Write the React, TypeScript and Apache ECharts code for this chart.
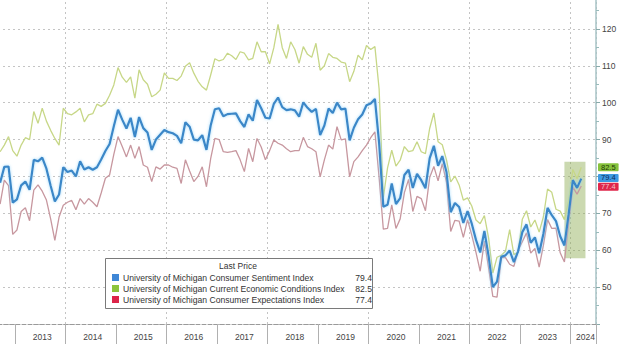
import React, { useEffect, useRef } from "react";
import * as echarts from "echarts";

// Monthly categories: Sep 2012 .. Jun 2024 (last three months empty padding)
const startYear = 2012;
const startMonth = 9;
const monthCount = 142;
const months: string[] = [];
for (let i = 0; i < monthCount; i++) {
  const t = startYear * 12 + (startMonth - 1) + i;
  const y = Math.floor(t / 12);
  const m = (t % 12) + 1;
  months.push(`${y}-${String(m).padStart(2, "0")}`);
}

const sentimentName = "University of Michigan Consumer Sentiment Index";
const currentName = "University of Michigan Current Economic Conditions Index";
const expectName = "University of Michigan Consumer Expectations Index";

// Sep 2012 .. Mar 2024
const sentiment: number[] = [
  78.3, 82.6, 82.7, 72.9,
  73.8, 77.6, 78.6, 76.4, 84.5, 84.1, 85.1, 82.1, 77.5, 73.2, 75.1, 82.5,
  81.2, 81.6, 80.0, 84.1, 81.9, 82.5, 81.8, 82.5, 84.6, 86.9, 88.8, 93.6,
  98.1, 95.4, 93.0, 95.9, 90.7, 96.1, 93.1, 91.9, 87.2, 90.0, 91.3, 92.6,
  92.0, 91.7, 91.0, 89.0, 94.7, 93.5, 90.0, 89.8, 91.2, 87.2, 93.8, 98.2,
  98.5, 96.3, 96.9, 97.0, 97.1, 95.0, 93.4, 96.8, 95.1, 100.7, 98.5, 95.9,
  95.7, 99.7, 101.4, 98.8, 98.0, 98.2, 97.9, 96.2, 100.1, 98.6, 97.5, 98.3,
  91.2, 93.8, 98.4, 97.2, 100.0, 98.2, 98.4, 89.8, 93.2, 95.5, 96.8, 99.3,
  99.8, 101.0, 89.1, 71.8, 72.3, 78.1, 72.5, 74.1, 80.4, 81.8, 76.9, 80.7,
  79.0, 76.8, 84.9, 88.3, 82.9, 85.5, 81.2, 70.3, 72.8, 71.7, 67.4, 70.6,
  67.2, 62.8, 59.4, 65.2, 58.4, 50.0, 51.5, 58.2, 58.6, 59.9, 56.8, 59.7,
  64.9, 67.0, 62.0, 63.5, 59.2, 64.4, 71.5, 69.5, 67.9, 63.8, 61.3, 69.7,
  79.0, 76.9, 79.4,
];

const currentConditions: number[] = [
  86.7, 88.5, 90.8, 87.0,
  85.5, 88.5, 90.5, 90.0, 97.6, 94.4, 98.5, 95.0, 92.5, 90.3, 88.5, 98.5,
  97.0, 96.7, 97.5, 98.5, 94.8, 96.7, 97.0, 99.6, 99.0, 99.8, 102.0, 104.8,
  109.5, 106.9, 105.5, 107.0, 101.2, 108.9, 106.2, 105.0, 101.6, 102.3, 103.4, 108.1,
  106.6, 106.6, 106.0, 107.2, 109.9, 110.8, 108.0, 105.8, 104.3, 103.4, 107.5, 111.9,
  111.3, 111.7, 113.4, 112.7, 111.7, 113.8, 113.4, 111.6, 112.0, 116.5, 113.8, 113.8,
  110.5, 114.9, 121.2, 114.9, 112.0, 116.5, 114.4, 110.7, 115.2, 113.1, 112.3, 116.1,
  108.8, 110.0, 113.3, 112.3, 112.0, 111.0, 110.7, 105.7, 108.5, 112.9, 111.6, 115.5,
  114.4, 115.2, 103.7, 74.3, 82.3, 87.1, 82.8, 84.4, 88.1, 86.7, 87.0, 89.4,
  86.7, 86.2, 93.0, 97.2, 89.4, 88.6, 84.5, 78.5, 80.1, 77.7, 73.6, 74.2,
  72.0, 68.2, 67.2, 69.4, 63.3, 53.8, 58.1, 58.6, 59.7, 65.6, 58.8, 59.4,
  68.4, 70.7, 66.3, 68.2, 64.9, 69.0, 76.6, 75.7, 71.1, 70.6, 68.3, 73.3,
  81.9, 79.4, 82.5,
];

const expectations: number[] = [
  72.5, 79.0, 77.5, 64.3,
  65.5, 70.5, 71.5, 68.0, 76.3, 77.7, 76.0, 73.6, 68.5, 62.7, 69.0, 72.2,
  73.0, 73.5, 71.0, 74.0, 72.5, 74.0, 73.0, 71.8, 75.5, 79.5, 80.4, 86.0,
  90.8, 88.1, 85.3, 88.5, 84.9, 88.1, 83.1, 82.5, 78.6, 82.6, 82.0, 83.1,
  83.1, 82.5, 82.2, 78.1, 84.5, 81.5, 78.6, 80.0, 82.6, 77.2, 84.8, 90.3,
  90.0, 86.7, 86.5, 86.7, 87.0, 84.5, 81.3, 87.6, 84.0, 90.3, 88.0, 84.5,
  87.0, 89.9, 89.0, 88.5, 87.5, 86.7, 87.0, 87.0, 90.6, 88.1, 87.5, 86.7,
  79.9, 84.5, 88.5, 87.4, 93.5, 89.9, 90.2, 79.9, 84.0, 85.3, 87.0, 88.5,
  90.5, 92.1, 79.7, 65.7, 65.9, 72.3, 65.9, 68.5, 75.6, 79.2, 70.5, 74.6,
  74.0, 70.7, 79.7, 82.7, 78.8, 83.5, 78.4, 65.1, 68.1, 67.9, 63.5, 68.3,
  64.1, 59.4, 54.3, 62.5, 55.2, 47.5, 47.3, 58.0, 58.0, 56.2, 55.6, 59.9,
  62.3, 64.7, 59.2, 60.5, 55.4, 61.3, 68.3, 65.9, 66.0, 59.3, 56.8, 67.4,
  77.1, 75.2, 77.4,
];

const lastPrices: Record<string, number> = {
  [sentimentName]: 79.4,
  [currentName]: 82.5,
  [expectName]: 77.4,
};

const yTickLabels = [50, 60, 70, 90, 100, 110, 120];

const highlightStart = "2023-11";
const highlightEnd = "2024-04";
const highlightTop = 84;
const highlightBottom = 57.8;

const FONT = "Liberation Sans, Arial, sans-serif";
// chart canvas is shifted so that the plot starts slightly outside the visible page
const OX = 2;
const OY = 8;

function tag(value: number, bg: string, fg: string, dy: number) {
  return {
    silent: true,
    symbol: ["none", "none"],
    lineStyle: { color: "transparent", width: 0 },
    label: {
      show: true,
      position: "end",
      distance: 2,
      offset: [0, dy],
      formatter: value.toFixed(1),
      backgroundColor: bg,
      color: fg,
      fontSize: 7.5,
      lineHeight: 8,
      fontFamily: FONT,
      padding: [0, 3, 0, 3],
      borderRadius: 1,
    },
    data: [{ yAxis: value }],
  };
}

export default function App() {
  const ref = useRef<HTMLDivElement>(null);
  useEffect(() => {
    document.body.style.margin = "0";
    const chart = echarts.init(ref.current!, null, { renderer: "svg" });
    const option: any = {
      animation: false,
      backgroundColor: "#ffffff",
      grid: { left: 0, width: 598, top: 0, height: 332 },
      xAxis: {
        type: "category",
        data: months,
        boundaryGap: true,
        axisLine: { show: true, lineStyle: { color: "#9a9a9a", type: "dashed", width: 1 } },
        axisTick: {
          show: true,
          length: 24,
          interval: (_i: number, v: string) => v.endsWith("-01"),
          lineStyle: { color: "#b0b0b0", width: 1 },
        },
        axisLabel: {
          show: true,
          interval: (_i: number, v: string) =>
            (v.endsWith("-07") && Number(v.slice(0, 4)) <= 2023) || v === "2024-04",
          formatter: (v: string) => v.slice(0, 4),
          color: "#444",
          fontSize: 8.5,
          fontFamily: FONT,
          margin: 8,
        },
        splitLine: {
          show: true,
          interval: (_i: number, v: string) =>
            v.endsWith("-01") && Number(v.slice(0, 4)) % 2 === 0,
          lineStyle: { color: "#c4c4c4", type: [2, 3], width: 1 },
        },
      },
      yAxis: {
        type: "value",
        position: "right",
        min: 40,
        max: 130,
        interval: 10,
        axisLine: { show: true, lineStyle: { color: "#a7c3c6", width: 1.5 } },
        axisTick: { show: true, length: 4, lineStyle: { color: "#8aa" } },
        minorTick: { show: true, splitNumber: 2, length: 3, lineStyle: { color: "#9bb" } },
        axisLabel: {
          color: "#444",
          fontSize: 8.5,
          fontFamily: FONT,
          margin: 6,
          formatter: (v: number) => (yTickLabels.indexOf(v) >= 0 ? String(v) : ""),
        },
        splitLine: { show: true, lineStyle: { color: "#c4c4c4", type: [2, 3], width: 1 } },
      },
      legend: {
        show: true,
        orient: "vertical",
        left: 107 + OX,
        top: 268 + OY,
        itemWidth: 7,
        itemHeight: 7,
        itemGap: 2,
        icon: "rect",
        selectedMode: false,
        z: 10,
        data: [
          { name: sentimentName, itemStyle: { color: "#3f87d6" } },
          { name: currentName, itemStyle: { color: "#8cc43c" } },
          { name: expectName, itemStyle: { color: "#dc2449" } },
        ],
        formatter: (name: string) => `{n|${name}}{v|${lastPrices[name].toFixed(1)}}`,
        textStyle: {
          fontFamily: FONT,
          fontSize: 8.6,
          color: "#333",
          padding: [0, 0, 0, -1],
          rich: {
            n: { width: 229, fontSize: 8.6, lineHeight: 9, fontFamily: FONT, color: "#333" },
            v: { width: 20, align: "right", fontSize: 8.6, lineHeight: 9, fontFamily: FONT, color: "#333" },
          },
        },
      },
      graphic: [
        {
          type: "rect",
          z: 9,
          shape: { x: 105.5 + OX, y: 258.5 + OY, width: 267, height: 50 },
          style: { fill: "#ffffff", stroke: "#7a7a7a", lineWidth: 1 },
        },
        {
          type: "text",
          z: 10,
          x: 238 + OX,
          y: 261 + OY,
          style: {
            text: "Last Price",
            fontSize: 8.5,
            fontFamily: FONT,
            fill: "#333",
            align: "center",
          },
        },
      ],
      series: [
        {
          name: currentName,
          type: "line",
          data: currentConditions,
          symbol: "none",
          z: 2,
          lineStyle: { color: "#c7d787", width: 1.3 },
          itemStyle: { color: "#c7d787" },
          markLine: tag(82.5, "#86c23c", "#1e3a08", 0),
        },
        {
          name: expectName,
          type: "line",
          data: expectations,
          symbol: "none",
          z: 2,
          lineStyle: { color: "#c7979f", width: 1.3 },
          itemStyle: { color: "#c7979f" },
          markLine: tag(77.4, "#e0274b", "#f5c0c8", 0.7),
        },
        {
          name: sentimentName,
          type: "line",
          data: sentiment,
          symbol: "none",
          z: 3,
          lineStyle: {
            color: "#3a87c8",
            width: 2.2,
            shadowColor: "rgba(140,210,250,0.8)",
            shadowBlur: 3,
          },
          itemStyle: { color: "#3a87c8" },
          markLine: tag(79.4, "#3d9ae2", "#0d2b55", -0.7),
          markArea: {
            silent: true,
            itemStyle: { color: "rgba(140,170,80,0.45)" },
            data: [
              [
                { xAxis: highlightStart, yAxis: highlightTop },
                { xAxis: highlightEnd, yAxis: highlightBottom },
              ],
            ],
          },
        },
      ],
    };
    chart.setOption(option);
    return () => chart.dispose();
  }, []);
  return (
    <div style={{ position: "relative", width: 620, height: 344, overflow: "hidden" }}>
      <div
        ref={ref}
        style={{ position: "absolute", left: -OX, top: -OY, width: 624, height: 352 }}
      />
    </div>
  );
}
